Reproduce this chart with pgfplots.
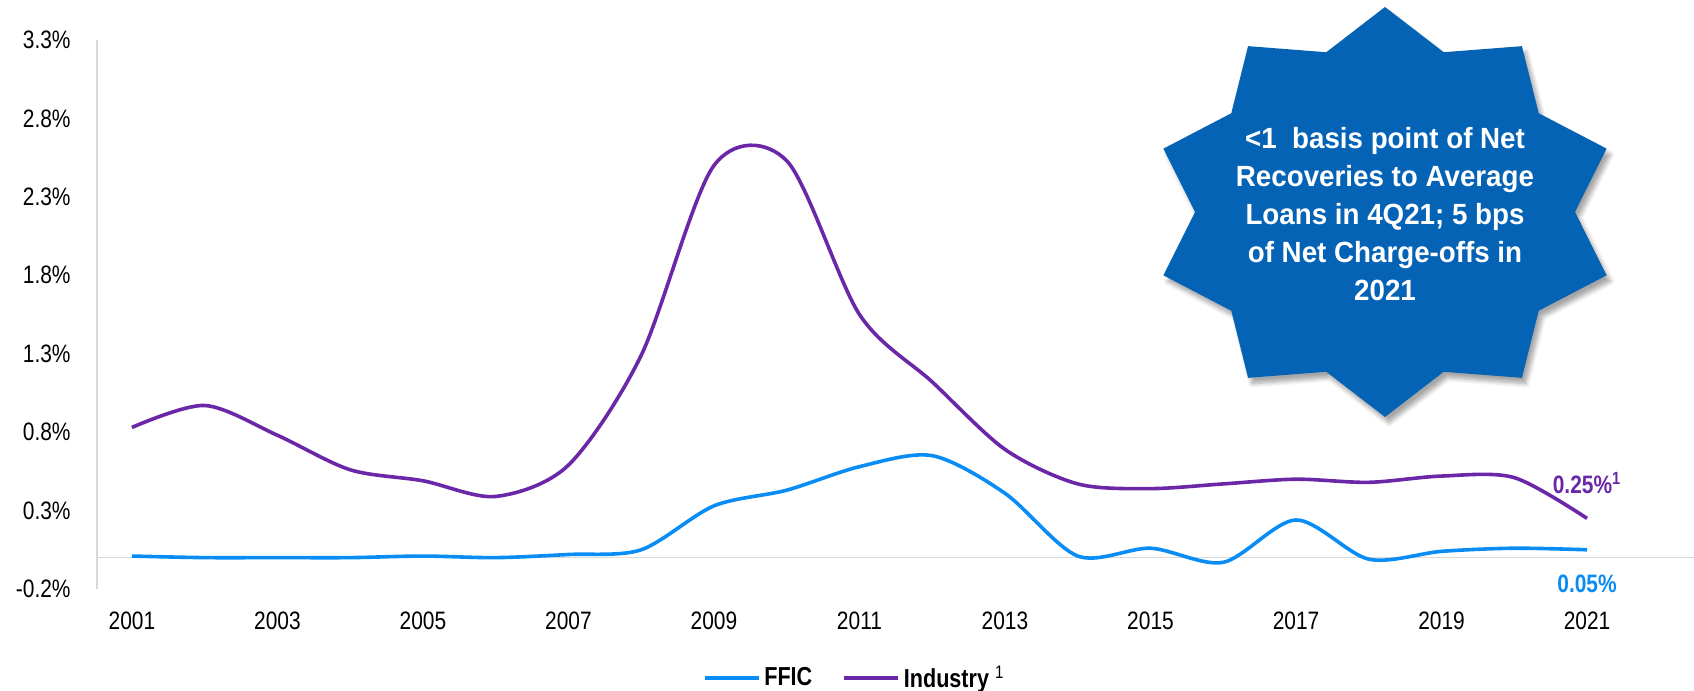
\documentclass[border=0pt]{standalone}
\usepackage{fontspec}
\setmainfont{Liberation Sans}[FakeStretch=0.83]
\newfontfamily\starfont{Liberation Sans}[FakeStretch=0.95]
\usepackage{pgfplots}
\pgfplotsset{compat=1.18}
\usetikzlibrary{shadows.blur}
\definecolor{ffic}{HTML}{0A8CF5}
\definecolor{ind}{HTML}{6A28A8}
\definecolor{starblue}{HTML}{0563B6}
\definecolor{axgray}{HTML}{D9D9D9}

\begin{document}
\begin{tikzpicture}[x=0.5pt,y=0.5pt]
\useasboundingbox (0,0) rectangle (1694,691);
\begin{axis}[
  at={(48.5pt,51pt)}, anchor=south west,
  scale only axis, width=798.5pt, height=274.5pt,
  xmin=2000.52, xmax=2022.47, ymin=-0.2, ymax=3.3,
  axis lines*=left,
  x axis line style={draw=none},
  y axis line style={axgray, line width=0.6pt},
  tick style={draw=none},
  clip=false,
  xtick={2001,2003,2005,2007,2009,2011,2013,2015,2017,2019,2021},
  xticklabels={2001,2003,2005,2007,2009,2011,2013,2015,2017,2019,2021},
  ytick={-0.2,0.3,0.8,1.3,1.8,2.3,2.8,3.3},
  yticklabels={-0.2\%,0.3\%,0.8\%,1.3\%,1.8\%,2.3\%,2.8\%,3.3\%},
  extra y ticks={0}, extra y tick labels={},
  extra y tick style={grid=major, major grid style={axgray, line width=0.6pt}},
  ticklabel style={font=\fontsize{12.6}{15}\selectfont},
  yticklabel style={inner sep=0pt, xshift=-13pt},
  xticklabel style={inner sep=0pt, anchor=north, yshift=-11.5pt},
  legend style={at={(0.475,-0.162)}, anchor=center, draw=none, fill=none,
    legend columns=2, font=\bfseries\fontsize{13}{15}\selectfont,
    /tikz/every even column/.append style={column sep=13pt}},
  legend image code/.code={\draw[#1, line width=1.8pt] (0pt,0pt) -- (27pt,0pt);},
]
\addplot[ffic, line width=1.8pt, smooth] coordinates {
  (2001,0.01) (2002,0.00) (2003,0.00) (2004,0.00) (2005,0.01) (2006,0.00)
  (2007,0.02) (2008,0.05) (2009,0.33) (2010,0.43) (2011,0.58) (2012,0.65)
  (2013,0.41) (2014,0.01) (2015,0.06) (2016,-0.03) (2017,0.24) (2018,-0.01)
  (2019,0.04) (2020,0.06) (2021,0.05)
};
\addlegendentry{FFIC}
\addplot[ind, line width=1.8pt, smooth] coordinates {
  (2001,0.83) (2002,0.97) (2003,0.78) (2004,0.56) (2005,0.49) (2006,0.39)
  (2007,0.59) (2008,1.29) (2009,2.50) (2010,2.53) (2011,1.55) (2012,1.12)
  (2013,0.69) (2014,0.47) (2015,0.44) (2016,0.47) (2017,0.50) (2018,0.48)
  (2019,0.52) (2020,0.51) (2021,0.25)
};
\addlegendentry{Industry \textsuperscript{\mdseries 1}}
\node[ind, font=\bfseries\fontsize{12.6}{15}\selectfont] at (axis cs:2021,0.476) {0.25\%\textsuperscript{1}};
\node[ffic, font=\bfseries\fontsize{12.6}{15}\selectfont] at (axis cs:2021,-0.168) {0.05\%};
\end{axis}
% starburst call-out
\fill[starblue, blur shadow={shadow xshift=2pt, shadow yshift=-3pt, shadow opacity=35, shadow blur steps=6}]
  plot[variable=\i, samples at={0,...,19}]
  ({1385+ifthenelse(mod(\i,2)==0,233,190)*cos(90+18*\i)},
   {479+ifthenelse(mod(\i,2)==0,205,168)*sin(90+18*\i)}) -- cycle;
\node[white, align=center, font=\starfont\bfseries\fontsize{14.6}{19}\selectfont] at (1385,477)
  {<1\ \ basis point of Net\\Recoveries to Average\\Loans in 4Q21; 5 bps\\of Net Charge-offs in\\2021};
\end{tikzpicture}
\end{document}
